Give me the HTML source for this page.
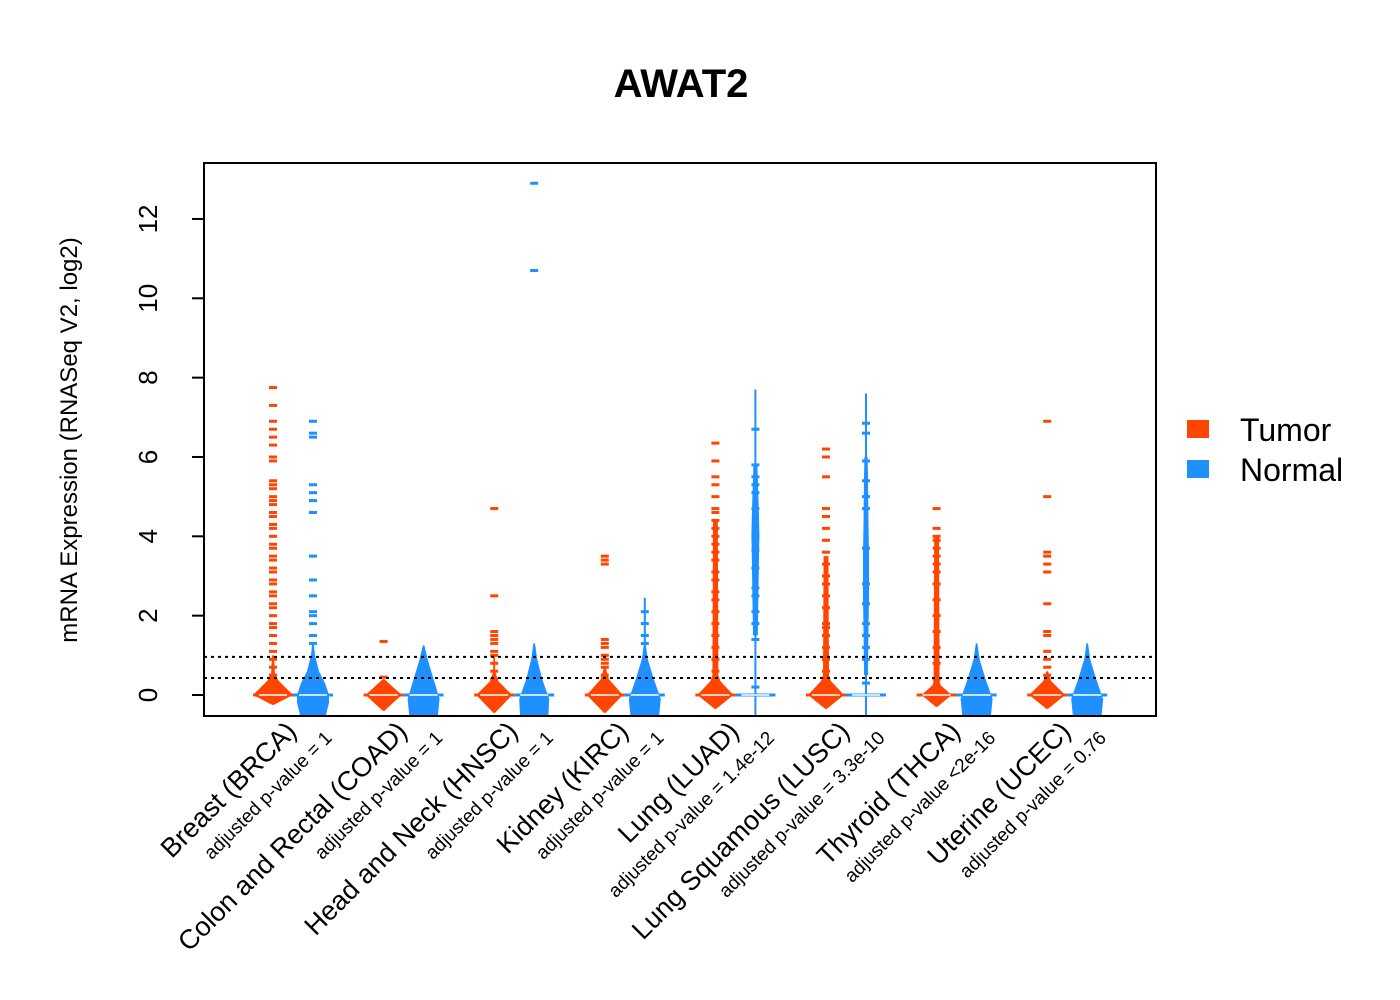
<!DOCTYPE html>
<html><head><meta charset="utf-8"><title>AWAT2</title>
<style>html,body{margin:0;padding:0;background:#fff}svg{display:block;font-family:"Liberation Sans",Arial,sans-serif}</style>
</head><body>
<svg id="chart" width="1400" height="1000" viewBox="0 0 1400 1000">
<defs><clipPath id="plotclip"><rect x="204" y="163" width="952" height="553"/></clipPath></defs>
<text x="681" y="97" text-anchor="middle" font-size="40" font-weight="bold">AWAT2</text>
<text transform="translate(77,440) rotate(-90)" text-anchor="middle" font-size="24">mRNA Expression (RNASeq V2, log2)</text>
<g id="yaxis"></g>
<g id="beans" clip-path="url(#plotclip)"></g>
<line x1="204" x2="1156" y1="657" y2="657" stroke="#000" stroke-width="2" stroke-dasharray="3,4" id="ref1"/>
<line x1="204" x2="1156" y1="678" y2="678" stroke="#000" stroke-width="2" stroke-dasharray="3,4" id="ref2"/>
<rect x="204" y="163" width="952" height="553" fill="none" stroke="#000" stroke-width="2"/>
<g id="xlabels"></g>
<g>
<rect x="1187" y="420" width="22" height="18" fill="#FF4500"/>
<text x="1240" y="441" font-size="32">Tumor</text>
<rect x="1187" y="460" width="22" height="18" fill="#1E90FF"/>
<text x="1240" y="481" font-size="32">Normal</text>
</g>
</svg>
<script>
const categories = ["Breast (BRCA)","Colon and Rectal (COAD)","Head and Neck (HNSC)","Kidney (KIRC)","Lung (LUAD)","Lung Squamous (LUSC)","Thyroid (THCA)","Uterine (UCEC)"];
const pvalues = ["adjusted p-value = 1","adjusted p-value = 1","adjusted p-value = 1","adjusted p-value = 1","adjusted p-value = 1.4e-12","adjusted p-value = 3.3e-10","adjusted p-value <2e-16","adjusted p-value = 0.76"];
const yTicks = [0,2,4,6,8,10,12];
const thresholds = [0.96,0.43];
const tumorDensVals = [[-0.25,0,0.35,0.5,1.0],[-0.4,0,0.4],[-0.45,0,0.35,0.6,1.0],[-0.45,0,0.4,0.7],[-0.35,0,0.35,0.5,4.4],[-0.35,0,0.35,0.5,3.5],[-0.3,0,0.25,0.35,4.0],[-0.35,0,0.35,0.6]];
const tumorDens = [[0,1,0.3,0.1,0.05],[0,0.9,0],[0,0.9,0.2,0.05,0],[0,0.9,0.2,0],[0,0.9,0.25,0.15,0.12],[0,0.9,0.25,0.15,0.12],[0,0.75,0.2,0.15,0.12],[0,0.9,0.2,0]];
const normalDensVals = [[-0.6,-0.2,0,0.3,0.6,1.0,1.3],[-0.6,-0.1,0.4,0.9,1.25],[-0.6,-0.1,0.4,0.9,1.3],[-0.6,-0.1,0.4,0.9,1.3],[1.5,2.5,3.5,4.0,4.5,5.0,5.8],[0.5,1.5,2.5,3.5,4.5,5.5,6.0],[-0.6,-0.1,0.4,0.9,1.3],[-0.6,-0.1,0.4,0.9,1.3]];
const normalDens = [[0.6,0.8,0.8,0.6,0.3,0.1,0],[0.7,0.8,0.5,0.2,0],[0.7,0.75,0.4,0.15,0],[0.7,0.8,0.45,0.15,0],[0.12,0.15,0.18,0.2,0.18,0.15,0.1],[0.1,0.12,0.15,0.15,0.12,0.1,0.08],[0.7,0.8,0.45,0.15,0],[0.7,0.8,0.45,0.15,0]];
const normalLineTop = [0,0,0,2.45,7.7,7.6,0,0];
const tumorPoints = [
 [0.5,0.7,0.9,1.1,1.3,1.5,1.7,1.8,2.0,2.2,2.3,2.5,2.6,2.8,2.9,3.1,3.2,3.4,3.5,3.7,3.8,4.0,4.2,4.3,4.5,4.6,4.8,4.9,5.0,5.2,5.3,5.4,5.9,6.0,6.3,6.5,6.7,6.9,7.3,7.75],
 [0.45,1.35],
 [0.4,0.6,0.8,1.0,1.1,1.3,1.4,1.5,1.6,2.5,4.7],
 [0.5,0.7,0.8,0.9,1.0,1.2,1.3,1.4,3.3,3.4,3.5],
 [0.6,0.9,1.2,1.5,1.8,2.1,2.4,2.6,2.9,3.1,3.4,3.6,3.8,4.0,4.2,4.4,4.6,4.7,5.0,5.3,5.5,5.9,6.35],
 [0.6,0.9,1.2,1.5,1.7,1.8,2.2,2.5,2.8,3.0,3.3,3.6,3.9,4.2,4.5,4.7,5.5,6.0,6.2],
 [0.4,0.8,1.2,1.6,2.0,2.4,2.8,3.1,3.3,3.5,3.7,3.9,4.0,4.2,4.7],
 [0.5,0.7,0.9,1.1,1.5,1.6,2.3,3.1,3.3,3.5,3.6,5.0,6.9]];
const normalPoints = [
 [1.3,1.5,1.8,2.0,2.1,2.5,2.9,3.5,4.6,4.9,5.1,5.3,6.5,6.6,6.9],
 [],
 [10.7,12.9],
 [1.3,1.5,1.8,2.1],
 [0.2,1.4,1.8,2.1,2.5,2.7,3.2,3.65,4.7,5.1,5.3,5.5,5.8,6.7],
 [0.3,0.9,1.2,1.5,1.8,2.3,2.8,3.7,4.7,5.0,5.4,5.9,6.6,6.85],
 [0.15],
 []];
const tumorMean = [0,0,0,0,0,0,0,0];
const normalMean = [0,0,0,0,0,0,0,0];

const NS = "http://www.w3.org/2000/svg";
const Y0 = 695, PXU = 39.67;
function yScale(v){ return Y0 - v*PXU; }
function xCenter(i){ return 293 + i*110.6; }
const HALF = 20;
function mk(tag, attrs, parent){ const e=document.createElementNS(NS,tag); for(const k in attrs) e.setAttribute(k,attrs[k]); parent.appendChild(e); return e; }

const yaxis = document.getElementById('yaxis');
yTicks.forEach(t=>{
  const ln = mk('line',{x1:192,x2:204,y1:yScale(t),y2:yScale(t),stroke:'#000','stroke-width':2},yaxis);
  
  
  const tx = mk('text',{transform:`translate(157,${yScale(t)}) rotate(-90)`,'text-anchor':'middle','font-size':26},yaxis);
  tx.textContent = t;
  
  
});
document.getElementById('ref1').setAttribute('y1',yScale(thresholds[0]));
document.getElementById('ref1').setAttribute('y2',yScale(thresholds[0]));
document.getElementById('ref2').setAttribute('y1',yScale(thresholds[1]));
document.getElementById('ref2').setAttribute('y2',yScale(thresholds[1]));

const beans = document.getElementById('beans');
function drawBean(cx, vals, dens, pts, mean, lineTop, color, name){
  const g = mk('g',{},beans);
  
  
  if(lineTop>0){
    const l = mk('line',{x1:cx,x2:cx,y1:yScale(-0.6),y2:yScale(lineTop),stroke:color,'stroke-width':2},g);
    
    
  }
  let left=[], right=[];
  vals.forEach((v,k)=>{ const w=Math.max(dens[k]*HALF,0.8); left.push(`${cx-w},${yScale(v)}`); right.unshift(`${cx+w},${yScale(v)}`); });
  const poly = mk('polygon',{points:left.concat(right).join(' '),fill:color},g);
  
  
  pts.forEach(p=>{
    const r = mk('rect',{x:cx-4,y:yScale(p)-1.5,width:8,height:3,fill:color},g);
    
    
  });
  const m = mk('line',{x1:cx-20,x2:cx+20,y1:yScale(mean),y2:yScale(mean),stroke:color,'stroke-width':3},g);
  
  
  const m2 = mk('line',{x1:cx-14,x2:cx+14,y1:yScale(mean),y2:yScale(mean),stroke:'#fff','stroke-width':1.5},g);
  
  
}
categories.forEach((c,i)=>{
  const cx = xCenter(i);
  drawBean(cx-20, tumorDensVals[i], tumorDens[i], tumorPoints[i], tumorMean[i], 0, '#FF4500', 'tumor-bean');
  drawBean(cx+20, normalDensVals[i], normalDens[i], normalPoints[i], normalMean[i], normalLineTop[i], '#1E90FF', 'normal-bean');
});

const xl = document.getElementById('xlabels');
categories.forEach((c,i)=>{
  const cx = xCenter(i);
  const t = mk('text',{transform:`translate(${cx+5},${733}) rotate(-45)`,'text-anchor':'end','font-size':27},xl);
  t.textContent = c;
  
  
  const s = mk('text',{transform:`translate(${cx+40},${739}) rotate(-45)`,'text-anchor':'end','font-size':19},xl);
  s.textContent = pvalues[i];
  
  
});
</script>
</body></html>
